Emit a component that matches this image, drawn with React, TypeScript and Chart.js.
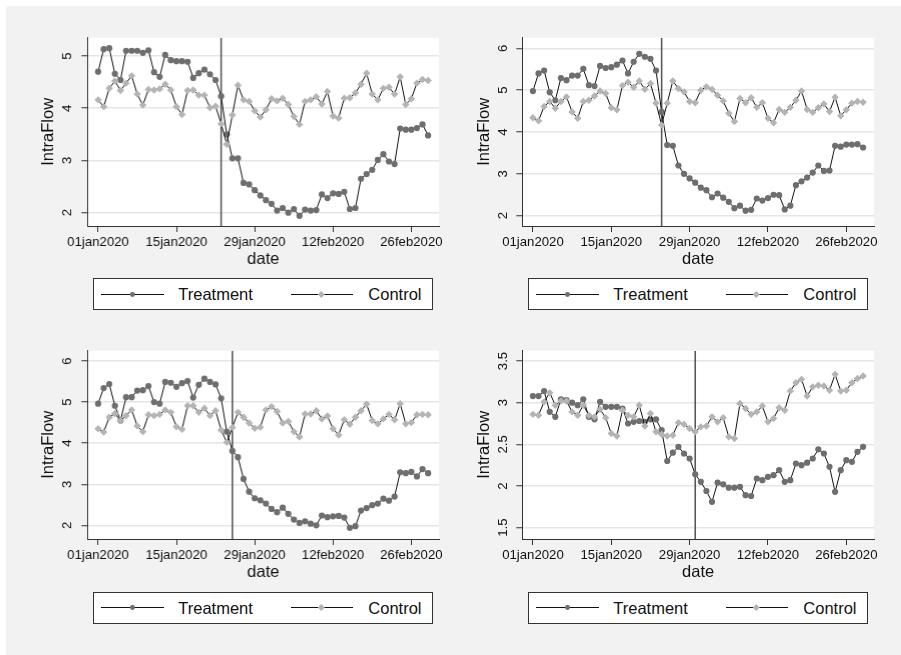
import React, { useEffect, useRef } from "react";
import { Chart, registerables } from "chart.js";

Chart.register(...registerables);

// ---------- data ----------
const SERIES_NAMES = ["Treatment", "Control"];
const X_TICK_DAYS = [0, 14, 28, 42, 56];
const X_TICK_LABELS = ["01jan2020", "15jan2020", "29jan2020", "12feb2020", "26feb2020"];
const X_TITLE = "date";
const Y_TITLE = "IntraFlow";

const P1_TREATMENT = [
  4.70, 5.13, 5.15, 4.66, 4.54, 5.10, 5.10, 5.10, 5.06, 5.11,
  4.69, 4.60, 5.02, 4.92, 4.90, 4.90, 4.89, 4.58, 4.67, 4.74,
  4.65, 4.54, 4.23, 3.50, 3.04, 3.04, 2.57, 2.54, 2.43, 2.33,
  2.24, 2.17, 2.04, 2.09, 2.00, 2.07, 1.94, 2.06, 2.04, 2.05,
  2.35, 2.28, 2.37, 2.36, 2.40, 2.07, 2.09, 2.65, 2.74, 2.82,
  3.01, 3.12, 2.98, 2.93, 3.61, 3.59, 3.59, 3.62, 3.69, 3.48,
];
const P1_CONTROL = [
  4.16, 4.03, 4.38, 4.52, 4.34, 4.48, 4.62, 4.27, 4.06, 4.36,
  4.35, 4.37, 4.46, 4.35, 4.03, 3.88, 4.34, 4.35, 4.25, 4.25,
  4.01, 4.04, 3.70, 3.31, 3.87, 4.44, 4.16, 4.13, 3.95, 3.83,
  3.97, 4.18, 4.14, 4.19, 4.07, 3.84, 3.69, 4.13, 4.16, 4.22,
  4.08, 4.32, 3.85, 3.81, 4.19, 4.20, 4.29, 4.46, 4.67, 4.27,
  4.16, 4.38, 4.40, 4.27, 4.60, 4.07, 4.18, 4.48, 4.55, 4.53,
];
const P2_TREATMENT = [
  4.98, 5.40, 5.47, 4.95, 4.76, 5.29, 5.24, 5.35, 5.35, 5.51,
  5.12, 5.10, 5.58, 5.53, 5.55, 5.61, 5.71, 5.40, 5.68, 5.87,
  5.80, 5.75, 5.47, 4.48, 3.69, 3.67, 3.20, 3.00, 2.89, 2.79,
  2.67, 2.61, 2.44, 2.53, 2.43, 2.33, 2.18, 2.24, 2.12, 2.14,
  2.41, 2.36, 2.42, 2.50, 2.49, 2.15, 2.24, 2.73, 2.82, 2.91,
  3.03, 3.20, 3.07, 3.08, 3.67, 3.65, 3.70, 3.70, 3.71, 3.63,
];
const P2_CONTROL = [
  4.34, 4.27, 4.61, 4.73, 4.57, 4.73, 4.84, 4.48, 4.33, 4.73,
  4.76, 4.86, 4.98, 4.92, 4.58, 4.53, 5.11, 5.19, 5.07, 5.22,
  5.02, 5.16, 4.69, 4.17, 4.69, 5.22, 5.04, 4.96, 4.73, 4.70,
  5.00, 5.08, 5.02, 4.88, 4.74, 4.45, 4.25, 4.80, 4.70, 4.82,
  4.59, 4.70, 4.33, 4.22, 4.54, 4.47, 4.59, 4.76, 4.98, 4.54,
  4.47, 4.58, 4.67, 4.49, 4.83, 4.39, 4.53, 4.69, 4.73, 4.71,
];
const P3_TREATMENT = [
  4.96, 5.34, 5.44, 4.91, 4.55, 5.12, 5.12, 5.28, 5.29, 5.39,
  5.00, 4.96, 5.49, 5.47, 5.37, 5.46, 5.51, 5.11, 5.42, 5.57,
  5.49, 5.43, 5.09, 4.28, 3.81, 3.66, 3.13, 2.82, 2.66, 2.61,
  2.53, 2.40, 2.32, 2.43, 2.28, 2.14, 2.06, 2.10, 2.04, 2.00,
  2.24, 2.20, 2.22, 2.23, 2.19, 1.94, 1.98, 2.36, 2.42, 2.49,
  2.53, 2.65, 2.60, 2.70, 3.29, 3.27, 3.30, 3.19, 3.37, 3.27,
];
const P3_CONTROL = [
  4.35, 4.27, 4.63, 4.72, 4.55, 4.67, 4.81, 4.42, 4.28, 4.69,
  4.67, 4.70, 4.81, 4.75, 4.40, 4.34, 4.91, 4.91, 4.75, 4.85,
  4.67, 4.79, 4.32, 4.02, 4.38, 4.75, 4.63, 4.49, 4.36, 4.39,
  4.81, 4.89, 4.77, 4.49, 4.53, 4.28, 4.15, 4.71, 4.71, 4.79,
  4.59, 4.66, 4.35, 4.20, 4.57, 4.46, 4.63, 4.79, 4.95, 4.55,
  4.47, 4.59, 4.70, 4.57, 4.96, 4.47, 4.50, 4.69, 4.70, 4.69,
];
const P4_TREATMENT = [
  3.08, 3.08, 3.14, 2.89, 2.83, 3.04, 3.03, 3.00, 2.97, 3.04,
  2.83, 2.80, 3.01, 2.95, 2.95, 2.95, 2.93, 2.75, 2.77, 2.78,
  2.77, 2.80, 2.80, 2.67, 2.30, 2.40, 2.47, 2.39, 2.33, 2.14,
  2.05, 1.94, 1.81, 2.04, 2.02, 1.98, 1.98, 1.99, 1.89, 1.88,
  2.09, 2.07, 2.11, 2.13, 2.19, 2.05, 2.07, 2.27, 2.25, 2.28,
  2.33, 2.44, 2.39, 2.23, 1.93, 2.19, 2.31, 2.29, 2.41, 2.47,
];
const P4_CONTROL = [
  2.86, 2.85, 3.01, 3.12, 2.97, 3.02, 3.02, 2.89, 2.85, 2.97,
  2.85, 2.83, 2.92, 2.82, 2.63, 2.60, 2.91, 2.85, 2.83, 2.97,
  2.72, 2.87, 2.65, 2.62, 2.60, 2.61, 2.76, 2.74, 2.69, 2.65,
  2.71, 2.72, 2.83, 2.77, 2.82, 2.59, 2.57, 2.99, 2.93, 2.86,
  2.89, 2.96, 2.77, 2.81, 2.94, 2.91, 3.14, 3.24, 3.28, 3.08,
  3.19, 3.21, 3.20, 3.15, 3.34, 3.14, 3.15, 3.24, 3.29, 3.32,
];

const EVENT_DAYS = [22, 23, 24, 29];
const Y_TICKS_P1 = [2, 3, 4, 5];
const Y_TICKS_P2 = [2, 3, 4, 5, 6];
const Y_TICKS_P3 = [2, 3, 4, 5, 6];
const Y_TICKS_P4 = [1.5, 2, 2.5, 3, 3.5];
const Y_RANGES = [
  [1.745, 5.35],
  [1.753, 6.255],
  [1.668, 6.25],
  [1.364, 3.624],
];
const X_RANGE = [-1.9, 60.95];

// ---------- styling / layout ----------
const FONT_FAMILY = "'Liberation Sans', Arial, Helvetica, sans-serif";
const TICK_SIZE = 13.2;
const TITLE_SIZE = 16.5;
const TEXT_COLOR = "#111111";
const AXIS_COLOR = "#333333";
const GRID_COLOR = "#e6e6e6";
const LINE_COLOR = "#111111";
const TREAT_MARKER = "#6e6e6e";
const CTRL_MARKER = "#b4b4b4";
const VLINE_COLOR = "#5a5a5a";
const BG = "#f2f2f2";

type Geo = {
  L: number; T: number;
  plotLeft: number; plotTop: number; plotRight: number; plotBottom: number;
  yTitleX: number; yTickX: number;
  legLeft: number; legTop: number;
};

const GEOS: Geo[] = [
  { L: 6, T: 6, plotLeft: 87.3, plotTop: 37.7, plotRight: 438.7, plotBottom: 226, yTitleX: 48.3, yTickX: 66.7, legLeft: 93.3, legTop: 278.3 },
  { L: 455, T: 6, plotLeft: 522.3, plotTop: 37.7, plotRight: 874.3, plotBottom: 226, yTitleX: 484, yTickX: 502.5, legLeft: 528.3, legTop: 278.3 },
  { L: 6, T: 319, plotLeft: 87.3, plotTop: 350.7, plotRight: 438.7, plotBottom: 539.3, yTitleX: 48.3, yTickX: 66.7, legLeft: 93.3, legTop: 591.7 },
  { L: 455, T: 319, plotLeft: 522.3, plotTop: 350.7, plotRight: 874.3, plotBottom: 539.3, yTitleX: 484, yTickX: 502.7, legLeft: 528.3, legTop: 591.7 },
];

const PANELS = [
  { treatment: P1_TREATMENT, control: P1_CONTROL, event: EVENT_DAYS[0], yTicks: Y_TICKS_P1, yRange: Y_RANGES[0] },
  { treatment: P2_TREATMENT, control: P2_CONTROL, event: EVENT_DAYS[1], yTicks: Y_TICKS_P2, yRange: Y_RANGES[1] },
  { treatment: P3_TREATMENT, control: P3_CONTROL, event: EVENT_DAYS[2], yTicks: Y_TICKS_P3, yRange: Y_RANGES[2] },
  { treatment: P4_TREATMENT, control: P4_CONTROL, event: EVENT_DAYS[3], yTicks: Y_TICKS_P4, yRange: Y_RANGES[3] },
];

const TICK_LEN = 6;
const RIGHT_PAD = 12;
const X_AXIS_H = 46;

const whiteArea = {
  id: "whiteArea",
  beforeDraw(chart: any) {
    const { ctx, chartArea } = chart;
    if (!chartArea) return;
    ctx.save();
    ctx.fillStyle = "#ffffff";
    ctx.fillRect(chartArea.left, chartArea.top, chartArea.right - chartArea.left, chartArea.bottom - chartArea.top);
    ctx.restore();
  },
};

// Stata-style vertical y tick labels, placed at the y scale's own tick pixels
const rotatedYTicks = {
  id: "rotatedYTicks",
  afterDraw(chart: any, _args: any, opts: any) {
    const s = chart.scales.y;
    if (!s) return;
    const ctx = chart.ctx;
    ctx.save();
    ctx.font = `${TICK_SIZE}px ${FONT_FAMILY}`;
    ctx.fillStyle = TEXT_COLOR;
    ctx.textAlign = "center";
    ctx.textBaseline = "alphabetic";
    const capHalf = (TICK_SIZE * 0.716) / 2;
    s.ticks.forEach((t: any) => {
      const y = s.getPixelForValue(t.value);
      ctx.save();
      ctx.translate(opts.x, y);
      ctx.rotate(-Math.PI / 2);
      ctx.fillText(String(t.value), 0, capHalf);
      ctx.restore();
    });
    ctx.restore();
  },
};

function Panel({ idx }: { idx: number }) {
  const ref = useRef<HTMLCanvasElement | null>(null);
  const g = GEOS[idx];
  const p = PANELS[idx];
  const W = g.plotRight + RIGHT_PAD - g.L;
  const H = g.plotBottom + X_AXIS_H - g.T;

  useEffect(() => {
    if (!ref.current) return;
    const yTitlePad = g.yTitleX - g.L - (TITLE_SIZE * 1.2) / 2;
    const [yMin, yMax] = p.yRange;

    const chart = new Chart(ref.current, {
      type: "line",
      data: {
        datasets: [
          {
            label: SERIES_NAMES[1],
            data: p.control.map((y, i) => ({ x: i, y })),
            borderColor: LINE_COLOR,
            borderWidth: 1,
            pointStyle: "rectRot",
            pointRadius: 3.7,
            pointBackgroundColor: CTRL_MARKER,
            pointBorderColor: CTRL_MARKER,
            pointBorderWidth: 0,
            tension: 0,
          },
          {
            label: SERIES_NAMES[0],
            data: p.treatment.map((y, i) => ({ x: i, y })),
            borderColor: LINE_COLOR,
            borderWidth: 1,
            pointStyle: "circle",
            pointRadius: 3.1,
            pointBackgroundColor: TREAT_MARKER,
            pointBorderColor: TREAT_MARKER,
            pointBorderWidth: 0,
            tension: 0,
          },
          {
            label: "event",
            data: [
              { x: p.event, y: yMin },
              { x: p.event, y: yMax },
            ],
            borderColor: VLINE_COLOR,
            borderWidth: 1.6,
            pointRadius: 0,
          },
        ],
      },
      options: {
        animation: false,
        responsive: false,
        maintainAspectRatio: false,
        layout: { padding: { left: 0, top: g.plotTop - g.T, right: RIGHT_PAD, bottom: 0 } },
        plugins: {
          legend: { display: false },
          tooltip: { enabled: false },
          rotatedYTicks: { x: g.yTickX - g.L },
        },
        scales: {
          x: {
            type: "linear",
            min: X_RANGE[0],
            max: X_RANGE[1],
            afterBuildTicks: (s: any) => {
              s.ticks = X_TICK_DAYS.map((v) => ({ value: v }));
            },
            afterFit: (s: any) => {
              s.height = X_AXIS_H;
            },
            ticks: {
              autoSkip: false,
              minRotation: 0,
              maxRotation: 0,
              padding: 2.4,
              color: TEXT_COLOR,
              font: { family: FONT_FAMILY, size: TICK_SIZE },
              callback: (v: any) => {
                const k = X_TICK_DAYS.indexOf(Number(v));
                return k >= 0 ? X_TICK_LABELS[k] : "";
              },
            },
            grid: {
              display: true,
              drawOnChartArea: false,
              drawTicks: true,
              tickLength: TICK_LEN,
              tickColor: AXIS_COLOR,
              tickWidth: 1,
            },
            border: { display: true, color: AXIS_COLOR, width: 1 },
            title: {
              display: true,
              text: X_TITLE,
              color: TEXT_COLOR,
              font: { family: FONT_FAMILY, size: TITLE_SIZE },
              padding: { top: 0, bottom: 3.1 },
            },
          },
          y: {
            type: "linear",
            min: yMin,
            max: yMax,
            afterBuildTicks: (s: any) => {
              s.ticks = p.yTicks.map((v) => ({ value: v }));
            },
            afterFit: (s: any) => {
              s.width = g.plotLeft - g.L;
            },
            ticks: {
              display: false,
              autoSkip: false,
            },
            grid: {
              display: true,
              drawOnChartArea: true,
              drawTicks: true,
              color: GRID_COLOR,
              lineWidth: 1.5,
              tickLength: TICK_LEN,
              tickColor: AXIS_COLOR,
              tickWidth: 1,
            },
            border: { display: true, color: AXIS_COLOR, width: 1 },
            title: {
              display: true,
              text: Y_TITLE,
              color: TEXT_COLOR,
              font: { family: FONT_FAMILY, size: TITLE_SIZE },
              padding: { top: yTitlePad, bottom: 0 },
            },
          },
        },
      } as any,
      plugins: [whiteArea, rotatedYTicks],
    });
    return () => chart.destroy();
  }, [idx]);

  return (
    <>
      <canvas
        ref={ref}
        width={W}
        height={H}
        style={{ position: "absolute", left: g.L, top: g.T, width: W, height: H }}
      />
      <Legend left={g.legLeft} top={g.legTop} />
    </>
  );
}

function Legend({ left, top }: { left: number; top: number }) {
  const inner = 30;
  const mid = 15;
  const text = (x: number, s: string) => (
    <span
      style={{
        position: "absolute",
        left: x,
        top: 0,
        height: inner,
        lineHeight: `${inner}px`,
        fontFamily: FONT_FAMILY,
        fontSize: TITLE_SIZE,
        color: TEXT_COLOR,
        whiteSpace: "nowrap",
      }}
    >
      {s}
    </span>
  );
  const line = (x1: number, x2: number) => (
    <div style={{ position: "absolute", left: x1, top: mid - 0.5, width: x2 - x1, height: 1, background: LINE_COLOR }} />
  );
  return (
    <div
      style={{
        position: "absolute",
        left,
        top,
        width: 340,
        height: 32,
        boxSizing: "border-box",
        border: `1px solid ${AXIS_COLOR}`,
        background: "#ffffff",
      }}
    >
      {line(6.4, 69.7)}
      <div
        style={{
          position: "absolute",
          left: 38.4 - 2.4,
          top: mid - 2.4,
          width: 4.8,
          height: 4.8,
          borderRadius: "50%",
          background: TREAT_MARKER,
        }}
      />
      {text(84, SERIES_NAMES[0])}
      {line(196.4, 259)}
      <div
        style={{
          position: "absolute",
          left: 227.4 - 2.3,
          top: mid - 2.3,
          width: 4.6,
          height: 4.6,
          transform: "rotate(45deg)",
          background: CTRL_MARKER,
        }}
      />
      {text(274, SERIES_NAMES[1])}
    </div>
  );
}

export default function App() {
  return (
    <div style={{ position: "absolute", left: 0, top: 0, width: 901, height: 655, background: "#ffffff", overflow: "hidden" }}>
      <div style={{ position: "absolute", left: 6, top: 6, width: 895, height: 649, background: BG }} />
      {PANELS.map((_, i) => (
        <Panel key={i} idx={i} />
      ))}
    </div>
  );
}
